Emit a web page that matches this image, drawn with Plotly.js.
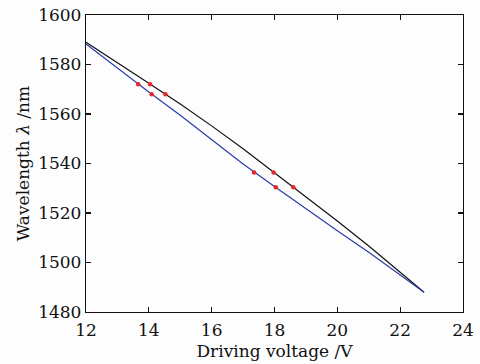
<!DOCTYPE html>
<html>
<head>
<meta charset="utf-8">
<script src="https://cdn.plot.ly/plotly-3.0.1.min.js"></script>
<style>html,body{margin:0;padding:0;background:#fdfdfd;}#chart{width:480px;height:364px;}</style>
</head>
<body>
<div id="chart"></div>
<script>
const voltsBlack = [12, 13, 14, 15, 16, 17, 18, 19, 20, 21, 22, 22.76];
const lambdaBlack = [1589, 1580.8, 1572.4, 1564, 1555.2, 1546, 1536.2, 1526.7, 1516.8, 1506.7, 1496.2, 1488];
const voltsBlue = [12, 13, 14, 15, 16, 17, 18, 19, 20, 21, 22, 22.76];
const lambdaBlue = [1588.3, 1578.5, 1568.9, 1559.5, 1549.6, 1539.8, 1530.7, 1521.7, 1512.8, 1504.1, 1495.0, 1488];
const voltsRed = [13.66, 14.04, 14.09, 14.53, 17.35, 17.97, 18.04, 18.6];
const lambdaRed = [1572, 1572, 1568, 1568, 1536.4, 1536.4, 1530.4, 1530.4];
const xTicks = [12, 14, 16, 18, 20, 22, 24];
const yTicks = [1480, 1500, 1520, 1540, 1560, 1580, 1600];

const font = {family: 'DejaVu Serif, serif', size: 17, color: '#111'};
const data = [
  {x: voltsBlack, y: lambdaBlack, mode: 'lines', line: {color: '#111111', width: 1.2}, hoverinfo: 'skip'},
  {x: voltsBlue, y: lambdaBlue, mode: 'lines', line: {color: '#2b3caa', width: 1.2}, hoverinfo: 'skip'},
  {x: voltsRed, y: lambdaRed, mode: 'markers', marker: {color: '#e8262a', size: 4.5}, hoverinfo: 'skip'}
];
const axisCommon = {
  showline: true, linecolor: '#111', linewidth: 1.2, mirror: 'ticks',
  ticks: 'inside', ticklen: 5, tickcolor: '#111', tickwidth: 1.2,
  showgrid: false, zeroline: false, tickfont: font
};
const layout = {
  width: 480, height: 364,
  margin: {l: 86, r: 17, t: 15, b: 52},
  paper_bgcolor: '#fdfdfd', plot_bgcolor: '#fdfdfd',
  showlegend: false,
  font: font,
  xaxis: Object.assign({}, axisCommon, {
    range: [12, 24], tickvals: xTicks, ticktext: xTicks.map(String),
    ticklabelstandoff: 2,
    title: {text: 'Driving voltage /V', font: font, standoff: 6}
  }),
  yaxis: Object.assign({}, axisCommon, {
    range: [1480, 1600], tickvals: yTicks, ticktext: yTicks.map(String),
    title: {text: 'Wavelength <i>λ</i> /nm', font: font, standoff: 4}
  })
};
Plotly.newPlot('chart', data, layout, {staticPlot: true, displayModeBar: false});
</script>
</body>
</html>
